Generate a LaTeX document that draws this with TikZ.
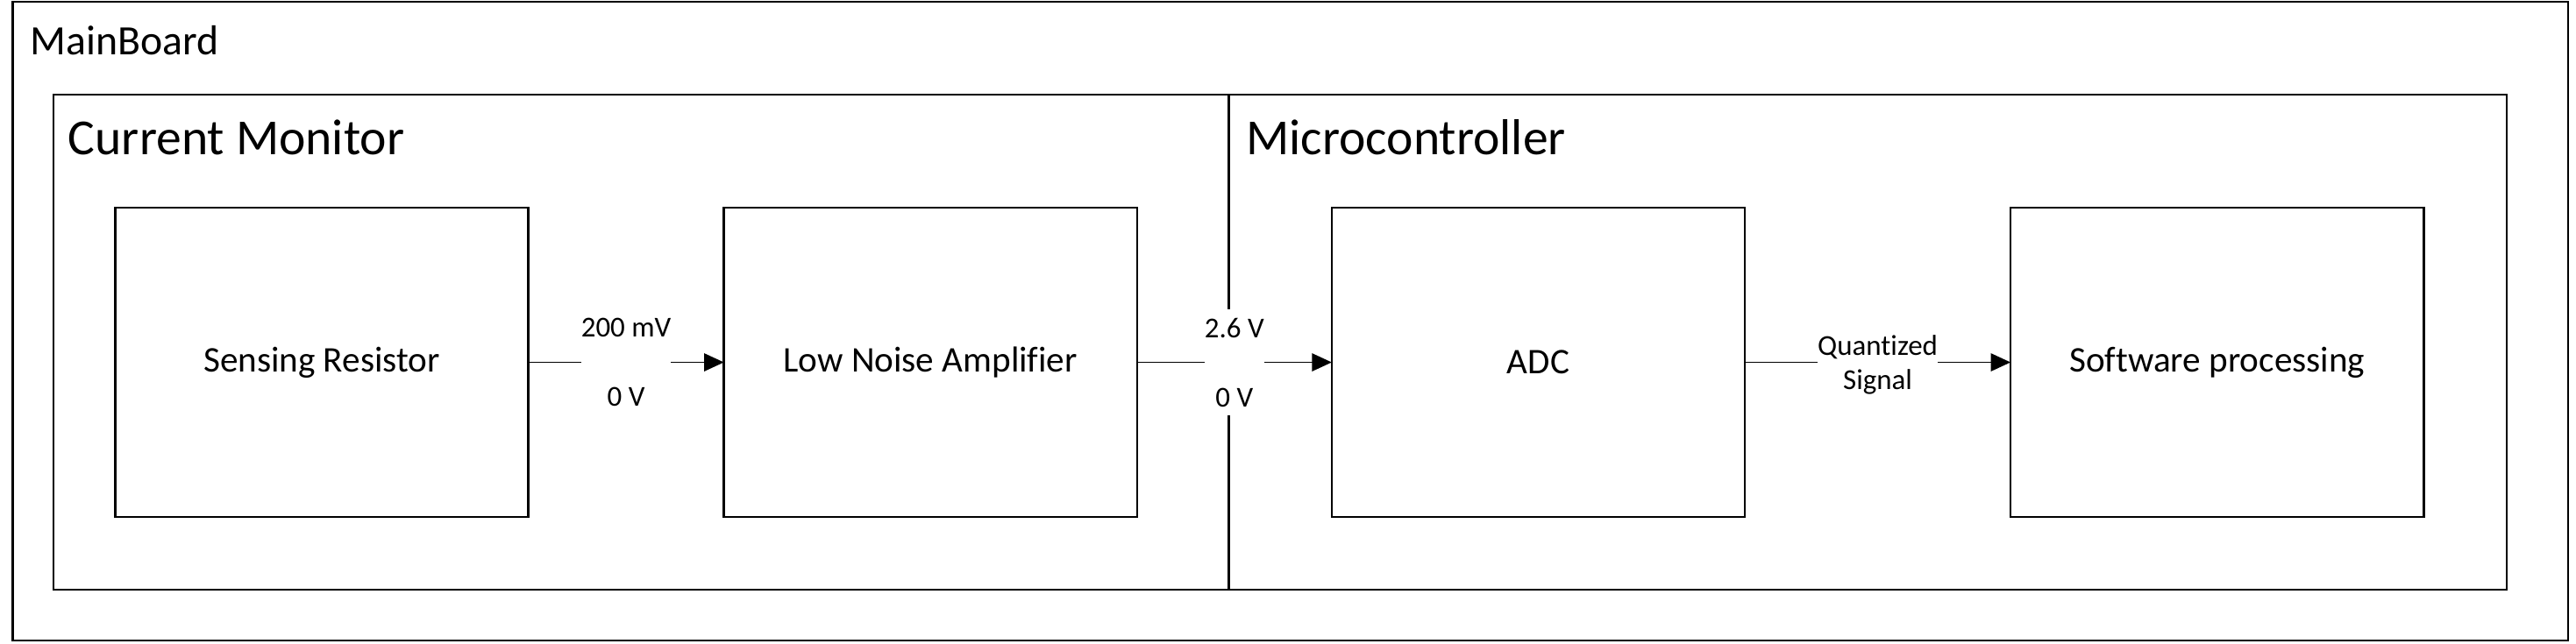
\documentclass[tikz,border=0pt]{standalone}
\usepackage{fontspec}
\setmainfont{Carlito}[Ligatures=NoCommon]
\usetikzlibrary{arrows.meta,positioning,calc}
\tikzset{
    blk/.style={draw, line width=0.7pt, minimum width=5.03cm, minimum height=3.77cm, inner sep=0pt, outer sep=0pt, font=\fontsize{12.5}{15}\selectfont},
    frame/.style={draw, line width=0.7pt},
    title/.style={anchor=base west, inner sep=0pt, font=\fontsize{17.5}{21}\selectfont},
    sig/.style={draw, line width=0.4pt, -{Triangle[length=6.8pt,width=6.2pt]}},
    siglabel/.style={fill=white, inner xsep=0pt, inner ysep=3pt, align=center, font=\fontsize{10}{12}\selectfont}}

\begin{document}
\begin{tikzpicture}
\useasboundingbox (0,0) rectangle (31.36,-7.835);
\coordinate (mb1) at (0.155,-0.021);
\coordinate (mb2) at (31.264,-7.803);
\coordinate (cm1) at (0.651,-1.153);
\coordinate (cm2) at (14.960,-7.184);
\coordinate (mc1) at (14.960,-1.153);
\coordinate (mc2) at (30.517,-7.184);

\draw [frame] (mb1) rectangle (mb2);
\draw [frame] (cm1) rectangle (cm2);
\draw [frame] (mc1) rectangle (mc2);
\node [title, font=\fontsize{14.5}{17}\selectfont] (mbt) at (0.36,-0.672) {MainBoard};
\node [title] (cmt) at (0.825,-1.889) {Current Monitor};
\node [title] (mct) at (15.165,-1.889) {Microcontroller};

\node [blk] (res) at (3.917,-4.414) {Sensing Resistor};
\node [blk, right=2.38cm of res] (lna) {Low Noise Amplifier};
\node [blk, right=2.37cm of lna] (adc) {ADC};
\node [blk, right=3.234cm of adc] (sw) {Software processing};

\draw [sig] (res) -- node[siglabel] {200 mV\\\strut\\0 V} (lna);
\draw [sig] (lna) -- node[siglabel] {2.6 V\\\strut\\0 V} (adc);
\draw [sig] (adc) -- node[siglabel, yshift=-0.03cm] {Quantized\\Signal} (sw);
\end{tikzpicture}
\end{document}
